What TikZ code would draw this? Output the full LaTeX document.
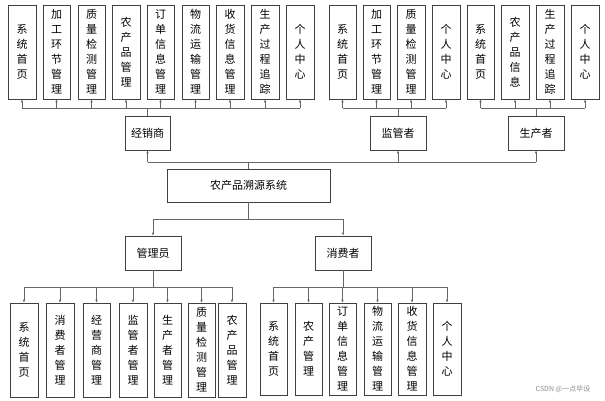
\documentclass[tikz,border=0pt]{standalone}
\usepackage{fontspec}
\newfontfamily\cjk{Noto Sans CJK SC}
\usetikzlibrary{arrows.meta}
\begin{document}
\begin{tikzpicture}[x=1pt,y=-1pt,
  box/.style={draw=black!75,line width=0.6pt,inner sep=0pt,font=\cjk\fontsize{11}{15}\selectfont,align=center},
  ln/.style={draw=black!60,line width=0.6pt},
  ar/.style={ln,-{Latex[length=3pt,width=2.5pt]}}]
\useasboundingbox (0,0) rectangle (605,401);
\newcommand\bx[6]{\node[box,minimum width={#3-#2},minimum height={#5-#4}] (#1) at ({(#2+#3)/2},{(#4+#5)/2}) {#6};}
% top row
\bx{a1}{8}{36}{5}{99}{系\\统\\首\\页}
\bx{a2}{43}{70}{5}{99}{加\\工\\环\\节\\管\\理}
\bx{a3}{78}{105}{5}{99}{质\\量\\检\\测\\管\\理}
\bx{a4}{112}{140}{5}{99}{农\\产\\品\\管\\理}
\bx{a5}{147}{174}{5}{99}{订\\单\\信\\息\\管\\理}
\bx{a6}{182}{209}{5}{99}{物\\流\\运\\输\\管\\理}
\bx{a7}{216}{244}{5}{99}{收\\货\\信\\息\\管\\理}
\bx{a8}{251}{279}{5}{99}{生\\产\\过\\程\\追\\踪}
\bx{a9}{286}{314}{5}{99}{个\\人\\中\\心}
\bx{b1}{329}{356}{5}{99}{系\\统\\首\\页}
\bx{b2}{363}{390}{5}{99}{加\\工\\环\\节\\管\\理}
\bx{b3}{397}{425}{5}{99}{质\\量\\检\\测\\管\\理}
\bx{b4}{432}{460}{5}{99}{个\\人\\中\\心}
\bx{c1}{467}{494}{5}{99}{系\\统\\首\\页}
\bx{c2}{501}{529}{5}{99}{农\\产\\品\\信\\息}
\bx{c3}{536}{564}{5}{99}{生\\产\\过\\程\\追\\踪}
\bx{c4}{571}{599}{5}{99}{个\\人\\中\\心}
% middle
\bx{jxs}{125}{170}{116}{150}{经销商}
\bx{jgz}{370}{426}{116}{150}{监管者}
\bx{scz}{508}{564}{116}{150}{生产者}
\bx{root}{167}{330}{169}{202}{农产品溯源系统}
\bx{gly}{125}{181}{236}{270}{管理员}
\bx{xfz}{315}{371}{236}{270}{消费者}
% bottom
\bx{d1}{10}{38}{303}{397}{系\\统\\首\\页}
\bx{d2}{46}{74}{303}{397}{消\\费\\者\\管\\理}
\bx{d3}{83}{110}{303}{397}{经\\营\\商\\管\\理}
\bx{d4}{119}{147}{303}{397}{监\\管\\者\\管\\理}
\bx{d5}{154}{181}{303}{397}{生\\产\\者\\管\\理}
\bx{d6}{188}{215}{303}{397}{质\\量\\检\\测\\管\\理}
\bx{d7}{218}{246}{303}{397}{农\\产\\品\\管\\理}
\bx{e1}{260}{287}{303}{395}{系\\统\\首\\页}
\bx{e2}{295}{322}{303}{395}{农\\产\\管\\理}
\bx{e3}{329}{356}{303}{395}{订\\单\\信\\息\\管\\理}
\bx{e4}{364}{391}{303}{395}{物\\流\\运\\输\\管\\理}
\bx{e5}{398}{426}{303}{395}{收\\货\\信\\息\\管\\理}
\bx{e6}{433}{461}{303}{395}{个\\人\\中\\心}
% connectors top
\foreach \n in {a1,a2,a3,a4,a5,a6,a7,a8,a9}{\draw[ar] (\n.south |- 0,108) -- (\n.south);}
\draw[ln] (a1.south |- 0,108) -- (a9.south |- 0,108);
\draw[ln] (jxs.north) -- (jxs.north |- 0,108);
\foreach \n in {b1,b2,b3,b4}{\draw[ar] (\n.south |- 0,108) -- (\n.south);}
\draw[ln] (b1.south |- 0,108) -- (b4.south |- 0,108);
\draw[ln] (jgz.north) -- (jgz.north |- 0,108);
\foreach \n in {c1,c2,c3,c4}{\draw[ar] (\n.south |- 0,108) -- (\n.south);}
\draw[ln] (c1.south |- 0,108) -- (c4.south |- 0,108);
\draw[ln] (scz.north) -- (scz.north |- 0,108);
\draw[ln] (248,169) -- (248,162);
\draw[ln] (jxs.south |- 0,162) -- (scz.south |- 0,162);
\foreach \n in {jxs,jgz,scz}{\draw[ar] (\n.south |- 0,162) -- (\n.south);}
% lower
\draw[ln] (248,202) -- (248,219);
\draw[ln] (gly.north |- 0,219) -- (xfz.north |- 0,219);
\foreach \n in {gly,xfz}{\draw[ar] (\n.north |- 0,219) -- (\n.north);}
\draw[ln] (gly.south) -- (gly.south |- 0,287);
\draw[ln] (d1.north |- 0,287) -- (d7.north |- 0,287);
\foreach \n in {d1,d2,d3,d4,d5,d6,d7}{\draw[ar] (\n.north |- 0,287) -- (\n.north);}
\draw[ln] (xfz.south) -- (xfz.south |- 0,287);
\draw[ln] (e1.north |- 0,287) -- (e6.north |- 0,287);
\foreach \n in {e1,e2,e3,e4,e5,e6}{\draw[ar] (\n.north |- 0,287) -- (\n.north);}
\node[font=\cjk\fontsize{7}{8}\selectfont,text=black!45] (wm) at (563,389) {CSDN @一点毕设};
\end{tikzpicture}
\end{document}
